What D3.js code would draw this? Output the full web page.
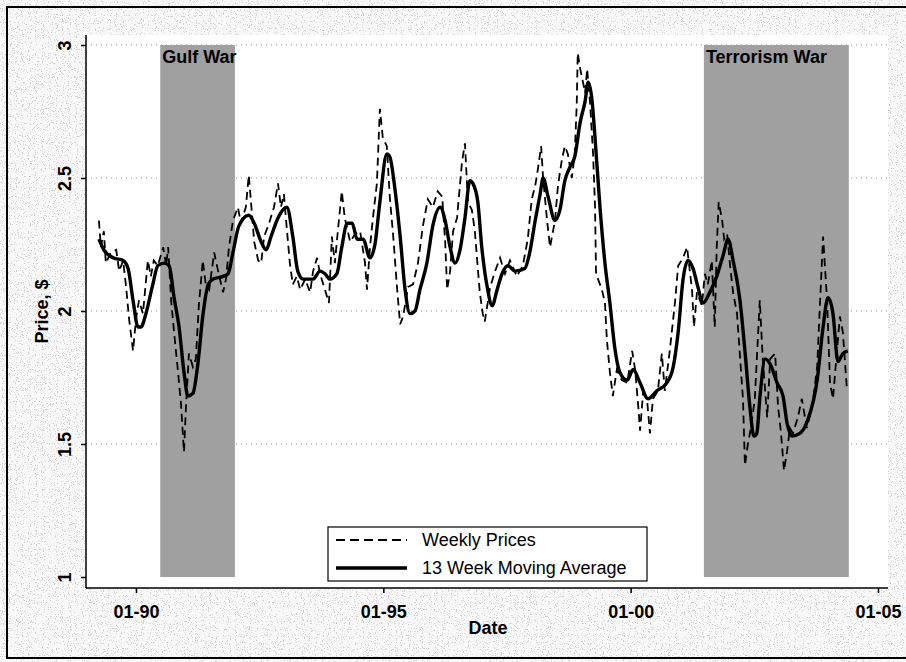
<!DOCTYPE html>
<html>
<head>
<meta charset="utf-8">
<script src="https://cdn.jsdelivr.net/npm/d3@7"></script>
<style>
  body { margin: 0; background: #fff; }
  text { font-family: "Liberation Sans", Arial, sans-serif; fill: #000; }
</style>
</head>
<body>
<div id="chart"></div>
<script>
'use strict';

// gasoline price, weekly + 13 week moving average (years as decimals)
var maYears = [1989.25,1989.35,1989.54,1989.74,1989.84,1989.94,1990.04,1990.10,1990.20,1990.34,
  1990.44,1990.57,1990.67,1990.77,1990.87,1990.97,1991.05,1991.15,1991.25,1991.35,
  1991.46,1991.56,1991.76,1991.86,1991.96,1992.08,1992.28,1992.39,1992.53,1992.63,
  1992.73,1992.87,1993.05,1993.17,1993.27,1993.38,1993.58,1993.72,1993.82,1993.92,
  1994.06,1994.16,1994.27,1994.37,1994.47,1994.59,1994.73,1994.83,1994.93,1995.07,
  1995.13,1995.24,1995.34,1995.44,1995.54,1995.64,1995.74,1995.88,1996.00,1996.15,
  1996.25,1996.35,1996.45,1996.55,1996.65,1996.75,1996.81,1996.91,1996.99,1997.10,
  1997.20,1997.30,1997.40,1997.52,1997.66,1997.86,1997.96,1998.07,1998.17,1998.23,
  1998.33,1998.47,1998.57,1998.67,1998.77,1998.87,1998.98,1999.08,1999.14,1999.22,
  1999.28,1999.38,1999.48,1999.58,1999.68,1999.78,1999.93,2000.05,2000.19,2000.35,
  2000.53,2000.73,2000.86,2000.96,2001.06,2001.16,2001.26,2001.36,2001.46,2001.60,
  2001.74,2001.87,2001.97,2002.07,2002.21,2002.31,2002.41,2002.49,2002.55,2002.61,
  2002.72,2002.82,2002.96,2003.08,2003.16,2003.26,2003.42,2003.58,2003.77,2003.89,
  2003.99,2004.09,2004.19,2004.29,2004.39];
var maPrices = [2.27,2.23,2.20,2.19,2.16,2.04,1.94,1.94,1.99,2.10,
  2.17,2.18,2.17,2.05,1.94,1.77,1.68,1.69,1.80,1.98,
  2.10,2.12,2.13,2.14,2.22,2.32,2.36,2.33,2.26,2.23,
  2.28,2.35,2.39,2.28,2.15,2.12,2.12,2.15,2.14,2.12,
  2.14,2.24,2.33,2.33,2.27,2.27,2.20,2.25,2.41,2.59,
  2.58,2.45,2.28,2.08,1.99,2.00,2.08,2.18,2.32,2.39,
  2.34,2.24,2.18,2.23,2.35,2.49,2.48,2.41,2.24,2.09,
  2.02,2.08,2.14,2.17,2.15,2.16,2.22,2.34,2.44,2.50,
  2.43,2.34,2.38,2.49,2.54,2.58,2.71,2.79,2.86,2.79,
  2.65,2.39,2.18,2.03,1.86,1.77,1.74,1.78,1.73,1.67,
  1.70,1.73,1.79,1.92,2.12,2.19,2.16,2.09,2.03,2.07,
  2.13,2.21,2.27,2.19,2.04,1.85,1.64,1.53,1.54,1.67,
  1.82,1.80,1.73,1.68,1.58,1.53,1.54,1.59,1.74,1.94,
  2.05,1.99,1.81,1.84,1.85];

var weeklyYears = [1989.25,1989.29,1989.35,1989.39,1989.49,1989.60,1989.66,1989.74,1989.80,1989.86,
  1989.94,1990.00,1990.06,1990.14,1990.24,1990.30,1990.36,1990.44,1990.55,1990.61,
  1990.65,1990.71,1990.77,1990.85,1990.91,1990.97,1991.01,1991.07,1991.15,1991.21,
  1991.27,1991.35,1991.41,1991.48,1991.58,1991.66,1991.76,1991.82,1991.88,1991.96,
  1992.06,1992.12,1992.22,1992.28,1992.32,1992.39,1992.47,1992.53,1992.59,1992.69,
  1992.79,1992.87,1992.93,1992.99,1993.03,1993.11,1993.17,1993.25,1993.32,1993.42,
  1993.52,1993.58,1993.66,1993.72,1993.82,1993.90,1993.96,1994.02,1994.08,1994.16,
  1994.22,1994.33,1994.43,1994.53,1994.63,1994.67,1994.73,1994.79,1994.87,1994.93,
  1994.99,1995.07,1995.13,1995.20,1995.28,1995.34,1995.40,1995.50,1995.60,1995.70,
  1995.80,1995.90,1996.00,1996.10,1996.19,1996.25,1996.29,1996.35,1996.41,1996.49,
  1996.59,1996.65,1996.71,1996.79,1996.85,1996.91,1996.95,1997.01,1997.05,1997.16,
  1997.26,1997.36,1997.46,1997.56,1997.70,1997.82,1997.92,1998.00,1998.07,1998.13,
  1998.19,1998.23,1998.31,1998.37,1998.47,1998.53,1998.61,1998.67,1998.73,1998.81,
  1998.87,1998.91,1998.93,1998.98,1999.08,1999.12,1999.18,1999.24,1999.28,1999.30,
  1999.34,1999.42,1999.48,1999.52,1999.58,1999.64,1999.72,1999.82,1999.93,2000.03,
  2000.09,2000.15,2000.19,2000.25,2000.33,2000.39,2000.45,2000.55,2000.63,2000.69,
  2000.79,2000.90,2000.96,2001.06,2001.14,2001.24,2001.28,2001.34,2001.44,2001.50,
  2001.56,2001.64,2001.70,2001.74,2001.78,2001.85,2001.89,2001.95,2002.01,2002.07,
  2002.15,2002.21,2002.27,2002.31,2002.37,2002.43,2002.51,2002.61,2002.67,2002.76,
  2002.82,2002.92,2002.98,2003.04,2003.10,2003.16,2003.22,2003.28,2003.38,2003.46,
  2003.56,2003.67,2003.77,2003.83,2003.89,2003.97,2004.03,2004.09,2004.17,2004.23,
  2004.29,2004.37];
var weeklyPrices = [2.34,2.24,2.30,2.18,2.22,2.23,2.15,2.19,2.09,1.97,
  1.85,1.97,2.04,1.99,2.19,2.13,2.19,2.17,2.24,2.17,
  2.24,2.04,1.92,1.77,1.65,1.47,1.64,1.84,1.79,1.82,
  2.02,2.19,2.10,2.08,2.22,2.15,2.07,2.12,2.24,2.34,
  2.39,2.33,2.39,2.51,2.42,2.26,2.19,2.18,2.28,2.33,
  2.39,2.48,2.39,2.44,2.35,2.18,2.10,2.13,2.08,2.12,
  2.07,2.15,2.20,2.14,2.08,2.03,2.28,2.18,2.30,2.45,
  2.35,2.26,2.29,2.30,2.18,2.08,2.24,2.35,2.48,2.76,
  2.65,2.62,2.43,2.28,2.08,1.95,1.98,2.09,2.10,2.18,
  2.32,2.42,2.39,2.45,2.43,2.26,2.08,2.15,2.30,2.35,
  2.56,2.63,2.41,2.38,2.30,2.16,2.07,1.99,1.96,2.09,
  2.15,2.20,2.14,2.19,2.13,2.17,2.27,2.42,2.47,2.54,
  2.62,2.50,2.34,2.24,2.34,2.47,2.57,2.62,2.59,2.50,
  2.59,2.78,2.97,2.91,2.82,2.91,2.78,2.59,2.39,2.14,
  2.12,2.08,2.03,1.89,1.77,1.68,1.78,1.74,1.73,1.85,
  1.78,1.65,1.55,1.69,1.67,1.54,1.67,1.70,1.84,1.70,
  1.85,2.04,2.17,2.20,2.24,2.08,1.94,2.07,2.02,2.14,
  2.10,2.19,1.94,2.24,2.41,2.34,2.27,2.29,2.17,2.07,
  1.99,1.83,1.67,1.42,1.50,1.56,1.67,2.04,1.82,1.60,
  1.82,1.84,1.64,1.54,1.40,1.47,1.56,1.54,1.60,1.67,
  1.56,1.64,1.79,2.04,2.28,2.04,1.73,1.67,1.85,1.98,
  1.92,1.71];

var bandNames = ['Gulf War', 'Terrorism War'];
var bandStarts = [1990.49, 2001.48];
var bandEnds = [1992.00, 2004.41];

var yTicks = [1, 1.5, 2, 2.5, 3];
var yGrid = [1.5, 2, 2.5, 3];
var xTicks = [1990, 1995, 2000, 2005];
var xTickLabels = ['01-90', '01-95', '01-00', '01-05'];
var legendLabels = ['Weekly Prices', '13 Week Moving Average'];

var width = 906;
var height = 662;

var svg = d3.select('#chart')
  .append('svg')
  .attr('width', width)
  .attr('height', height);

// scanned-paper speckle, kept light
var defs = svg.append('defs');
var speck = defs.append('filter')
  .attr('id', 'speck')
  .attr('x', 0).attr('y', 0).attr('width', '100%').attr('height', '100%');
speck.append('feTurbulence')
  .attr('type', 'fractalNoise')
  .attr('baseFrequency', 0.85)
  .attr('numOctaves', 2)
  .attr('seed', 4);
speck.append('feColorMatrix')
  .attr('type', 'matrix')
  .attr('values', '0 0 0 0 0.4  0 0 0 0 0.4  0 0 0 0 0.4  10 0 0 0 -6.0');

svg.append('rect')
  .attr('width', width).attr('height', height)
  .attr('fill', '#f8f8f8');
svg.append('rect')
  .attr('width', width).attr('height', height)
  .attr('filter', 'url(#speck)')
  .attr('opacity', 0.5);

var x = d3.scaleLinear().domain([1990, 2005]).range([136, 878]);
var y = d3.scaleLinear().domain([1, 3]).range([577, 45]);

var plotLeft = 86, plotRight = 888, plotTop = 35, plotBottom = 588;

// plot region
svg.append('rect')
  .attr('x', plotLeft).attr('y', plotTop)
  .attr('width', plotRight - plotLeft).attr('height', plotBottom - plotTop)
  .attr('fill', '#fff');

// outer frame
svg.append('rect')
  .attr('x', 7).attr('y', 7)
  .attr('width', 910).attr('height', 651)
  .attr('fill', 'none')
  .attr('stroke', '#000')
  .attr('stroke-width', 2);

// grid
svg.append('g')
  .selectAll('line')
  .data(yGrid)
  .enter()
  .append('line')
  .attr('x1', plotLeft).attr('x2', plotRight)
  .attr('y1', function(d) { return y(d); })
  .attr('y2', function(d) { return y(d); })
  .attr('stroke', '#888')
  .attr('stroke-width', 1)
  .attr('stroke-dasharray', '1,4');

// war bands
var bands = svg.append('g');
bands.selectAll('rect')
  .data(bandNames)
  .enter()
  .append('rect')
  .attr('x', function(d, i) { return x(bandStarts[i]); })
  .attr('width', function(d, i) { return x(bandEnds[i]) - x(bandStarts[i]); })
  .attr('y', y(3))
  .attr('height', y(1) - y(3))
  .attr('fill', '#a0a0a0');
bands.selectAll('text')
  .data(bandNames)
  .enter()
  .append('text')
  .attr('x', function(d, i) { return x(bandStarts[i]) + 2; })
  .attr('y', y(3) + 18)
  .attr('font-size', 18)
  .attr('font-weight', 'bold')
  .text(function(d) { return d; });

// series
var weekly = weeklyYears.map(function(t, i) { return { t: t, v: weeklyPrices[i] }; });
var ma = maYears.map(function(t, i) { return { t: t, v: maPrices[i] }; });

var line = d3.line()
  .x(function(d) { return x(d.t); })
  .y(function(d) { return y(d.v); });

svg.append('path')
  .datum(weekly)
  .attr('d', line)
  .attr('fill', 'none')
  .attr('stroke', '#000')
  .attr('stroke-width', 1.8)
  .attr('stroke-dasharray', '8,5');

svg.append('path')
  .datum(ma)
  .attr('d', line.curve(d3.curveMonotoneX))
  .attr('fill', 'none')
  .attr('stroke', '#000')
  .attr('stroke-width', 3.4)
  .attr('stroke-linejoin', 'round');

// axes
var yAxis = svg.append('g')
  .attr('transform', 'translate(' + plotLeft + ',0)')
  .call(d3.axisLeft(y).tickValues(yTicks).tickSize(5).tickFormat(d3.format('')));
yAxis.select('.domain').attr('d', 'M0,' + plotTop + 'V' + plotBottom).attr('stroke-width', 1.5);
yAxis.selectAll('.tick line').attr('stroke-width', 1.5);
yAxis.selectAll('.tick text')
  .attr('x', null).attr('dy', null)
  .attr('text-anchor', 'middle')
  .attr('transform', 'translate(-15,0) rotate(-90)')
  .attr('font-size', 18)
  .attr('font-weight', 'bold')
  .attr('font-family', '"Liberation Sans", Arial, sans-serif');

var xAxis = svg.append('g')
  .attr('transform', 'translate(0,' + plotBottom + ')')
  .call(d3.axisBottom(x).tickValues(xTicks).tickSize(5)
    .tickFormat(function(d, i) { return xTickLabels[i]; }));
xAxis.select('.domain').attr('d', 'M' + plotLeft + ',0H' + plotRight).attr('stroke-width', 1.5);
xAxis.selectAll('.tick line').attr('stroke-width', 1.5);
xAxis.selectAll('.tick text')
  .attr('y', 30).attr('dy', null)
  .attr('font-size', 18)
  .attr('font-weight', 'bold')
  .attr('font-family', '"Liberation Sans", Arial, sans-serif');

svg.append('text')
  .attr('x', (plotLeft + plotRight) / 2 + 1)
  .attr('y', 634)
  .attr('text-anchor', 'middle')
  .attr('font-size', 18)
  .attr('font-weight', 'bold')
  .text('Date');

svg.append('text')
  .attr('transform', 'translate(48,' + (plotTop + plotBottom) / 2 + ') rotate(-90)')
  .attr('text-anchor', 'middle')
  .attr('font-size', 18)
  .attr('font-weight', 'bold')
  .text('Price, $');

// legend
var legend = svg.append('g').attr('transform', 'translate(328,527)');
legend.append('rect')
  .attr('width', 319).attr('height', 54)
  .attr('fill', '#fff')
  .attr('stroke', '#000')
  .attr('stroke-width', 1.2);
var rows = legend.selectAll('g.row')
  .data(legendLabels)
  .enter()
  .append('g')
  .attr('class', 'row')
  .attr('transform', function(d, i) { return 'translate(0,' + (13 + i * 28) + ')'; });
rows.append('line')
  .attr('x1', 8).attr('x2', 79)
  .attr('stroke', '#000')
  .attr('stroke-width', function(d, i) { return i ? 3.4 : 1.8; })
  .attr('stroke-dasharray', function(d, i) { return i ? null : '9,5'; });
rows.append('text')
  .attr('x', 94)
  .attr('y', 6)
  .attr('font-size', 18)
  .text(function(d) { return d; });
</script>
</body>
</html>
